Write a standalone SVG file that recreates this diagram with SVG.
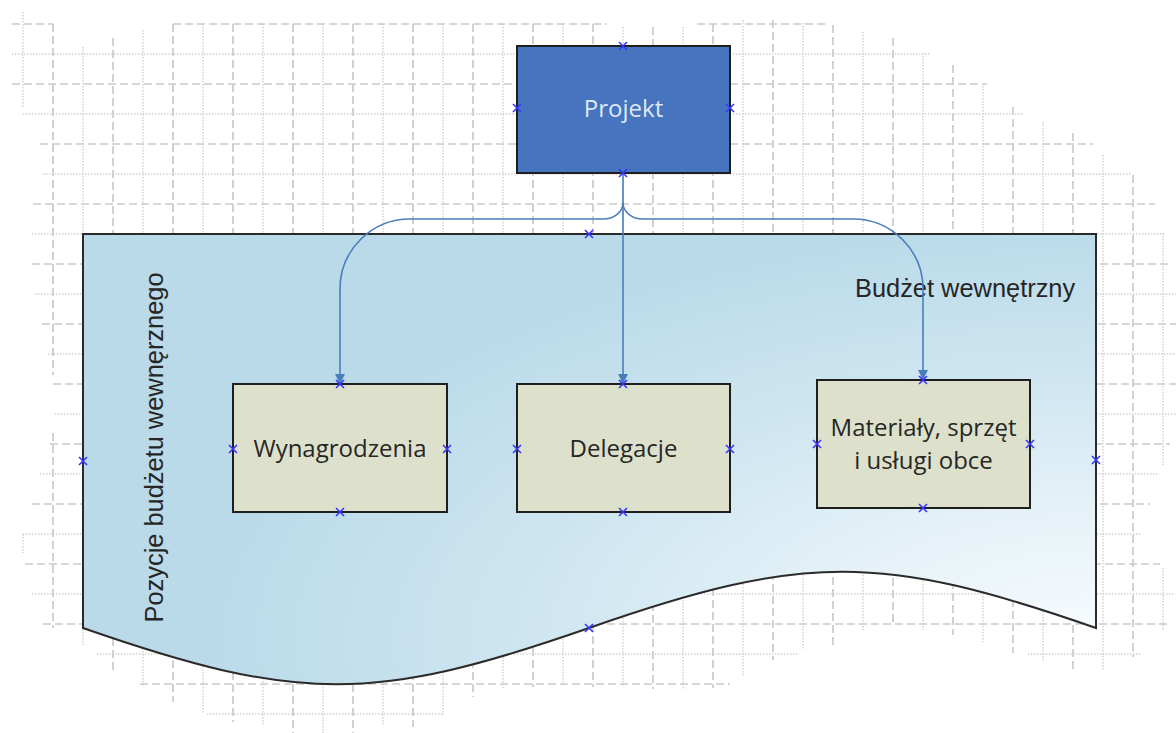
<svg xmlns="http://www.w3.org/2000/svg" width="1176" height="733" viewBox="0 0 1176 733">
<style>
.gd{stroke:#cacaca;stroke-width:1.7;stroke-dasharray:8 4;fill:none}
.gt{stroke:#cfcfcf;stroke-width:1.4;stroke-dasharray:1.4 1.6;fill:none}
.box{fill:#dde1cb;stroke:#1e1e1e;stroke-width:2}
.lbl{font-family:"Open Sans","Noto Sans",sans-serif;font-size:24px;fill:#262626;text-anchor:middle}
.ar{font-family:"Liberation Sans",Arial,sans-serif;font-size:25.4px;fill:#262626}
.con{fill:none;stroke:#4a7ebb;stroke-width:1.6}
.cp{fill:none;stroke:#3535ff;stroke-width:1.6}
</style>
<defs>
<radialGradient id="docg" gradientUnits="userSpaceOnUse" cx="0" cy="0" r="1" gradientTransform="translate(1096,640) scale(900,420)">
<stop offset="0" stop-color="#f7fbfd"/>
<stop offset="0.3" stop-color="#e6f2f8"/>
<stop offset="0.65" stop-color="#cde5f0"/>
<stop offset="1" stop-color="#badae9"/>
</radialGradient>
<marker id="arr" markerUnits="userSpaceOnUse" markerWidth="11" markerHeight="10" refX="10" refY="5" orient="auto">
<path d="M0,0 L10,5 L0,10 z" fill="#4a7ebb"/>
</marker>
<path id="cx" d="M-4,-4 L4,4 M-4,4 L4,-4"/>
</defs>
<rect width="1176" height="733" fill="#ffffff"/>
<g id="grid">
<path class="gd" d="M12,24H53M173,24H607M697,24H825M12,84H517M730,84H987M40,144H517M730,144H1093M33,204H1155M32,264H1170M42,324H1176M53,384H1176M50,444H1170M32,504H1150M25,564H1160M43,624H1170M140,684H730"/>
<path class="gt" d="M12,54H517M730,54H930M23,114H517M730,114H1023M43,174H1132M32,234H1165M35,294H1176M48,354H1176M55,414H1176M40,474H1158M23,534H1142M32,594H1174M97,654H799M1028,654H1142M207,714H443"/>
<path class="gd" d="M53,24V375M53,433V628M113,38V670M173,24V702M233,24V722M293,24V733M353,24V733M413,24V727M473,24V697M533,24V687M593,24V687M653,27V689M713,24V688M773,20V660M833,25V645M893,38V625M953,65V635M1013,107V653M1073,133V670M1133,175V657"/>
<path class="gt" d="M23,12V108M23,534V553M83,47V645M143,30V687M203,24V713M263,24V725M323,24V733M383,24V725M443,24V715M503,24V688M563,24V687M623,27V687M683,27V689M743,20V677M803,23V649M863,32V630M923,53V630M983,83V642M1043,122V662M1103,155V670M1163,233V465M1163,568V630"/>
</g>
<g id="budzet">
<path d="M83,234 H1096 V628 C881,553 804,553 589,628 C374,703 298,703 83,628 Z" fill="url(#docg)" stroke="#2a2a2a" stroke-width="2"/>
<text class="ar" x="855" y="297">Budżet wewnętrzny</text>
<text class="ar" text-anchor="middle" transform="translate(163,447.5) rotate(-90)">Pozycje budżetu wewnęrznego</text>
</g>
<g id="projekt">
<rect x="517" y="46" width="213" height="127" fill="#4674be" stroke="#1e1e1e" stroke-width="2"/>
<text class="lbl" x="623.5" y="117" style="fill:#dfe8f4">Projekt</text>
</g>
<g id="wynagrodzenia">
<rect class="box" x="233" y="384" width="214" height="128"/>
<text class="lbl" x="340" y="457">Wynagrodzenia</text>
</g>
<g id="delegacje">
<rect class="box" x="517" y="384" width="213" height="128"/>
<text class="lbl" x="623.5" y="457">Delegacje</text>
</g>
<g id="materialy">
<rect class="box" x="817" y="380" width="213" height="128"/>
<text class="lbl" x="923.5" y="436">Materiały, sprzęt</text>
<text class="lbl" x="923.5" y="469">i usługi obce</text>
</g>
<g id="connectors">
<path class="con" d="M623,173 V203 A20,16 0 0 1 603,219 H410 A70,70 0 0 0 340,289 V384" marker-end="url(#arr)"/>
<path class="con" d="M623,203 V384" marker-end="url(#arr)"/>
<path class="con" d="M623,203 A20,16 0 0 0 643,219 H853 A70,70 0 0 1 923,289 V380" marker-end="url(#arr)"/>
</g>
<g id="connection-points" class="cp">
<use href="#cx" x="623" y="46"/><use href="#cx" x="517" y="108"/><use href="#cx" x="730" y="108"/><use href="#cx" x="623" y="173"/>
<use href="#cx" x="589" y="234"/><use href="#cx" x="83" y="461"/><use href="#cx" x="1096" y="460"/><use href="#cx" x="589" y="628"/>
<use href="#cx" x="340" y="384"/><use href="#cx" x="233" y="449"/><use href="#cx" x="447" y="449"/><use href="#cx" x="340" y="512"/>
<use href="#cx" x="623" y="384"/><use href="#cx" x="517" y="449"/><use href="#cx" x="730" y="449"/><use href="#cx" x="623" y="512"/>
<use href="#cx" x="923" y="380"/><use href="#cx" x="817" y="444"/><use href="#cx" x="1030" y="444"/><use href="#cx" x="923" y="508"/>
</g>
</svg>
